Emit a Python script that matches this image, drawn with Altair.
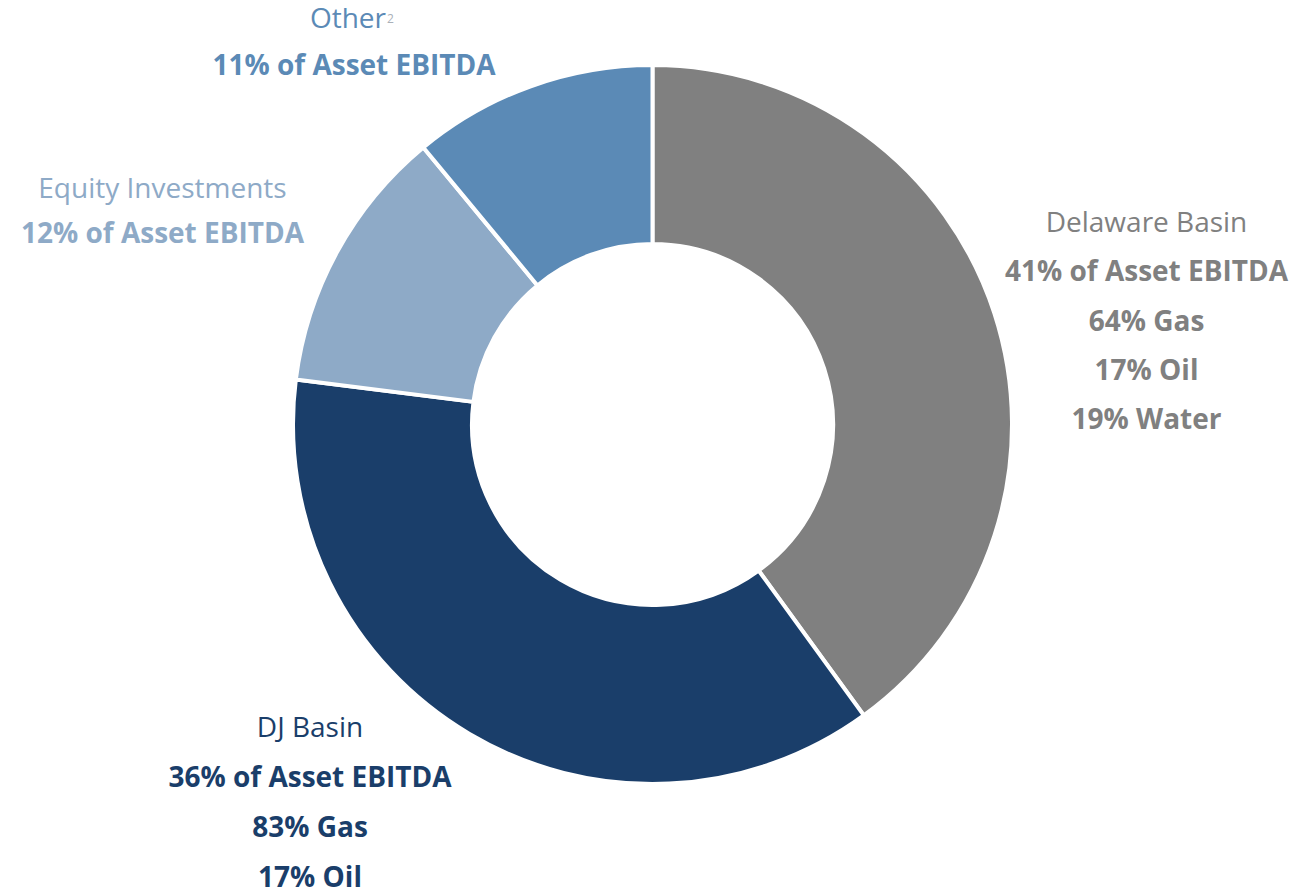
import altair as alt
import pandas as pd

# ---- data ----
segments = ["Delaware Basin", "DJ Basin", "Equity Investments", "Other"]
# slice shares as drawn (angles measured on the picture)
shares = [40, 37, 12, 11]
colors = ["#808080", "#1a3e6a", "#8eaac7", "#5b8ab6"]

label_titles = ["Delaware Basin", "DJ Basin", "Equity Investments", "Other"]
label_lines = [
    ["41% of Asset EBITDA", "64% Gas", "17% Oil", "19% Water"],
    ["36% of Asset EBITDA", "83% Gas", "17% Oil"],
    ["12% of Asset EBITDA"],
    ["11% of Asset EBITDA"],
]
footnote_mark = "2"

# ---- layout (pixels within the view) ----
W, H = 1299, 881
CX, CY = 644.5, 416.5
R_OUT, R_IN = 359.5, 180.5
FONT = "Open Sans"
FS = 28
# anchor (center x, first baseline y, line spacing) for each label block
anchors = [(1138.5, 224, 49.3), (302, 729, 50), (154.5, 190, 44.5), (346, 20, 47)]

df = pd.DataFrame({"segment": segments, "share": shares, "order": list(range(len(segments)))})
color_scale = alt.Scale(domain=segments, range=colors)
xs = alt.Scale(domain=[0, W], range=[0, W])
ys = alt.Scale(domain=[0, H], range=[0, H])

donut = alt.Chart(df).mark_arc(stroke="white", strokeWidth=4).encode(
    theta=alt.Theta("share:Q", stack=True),
    order=alt.Order("order:Q"),
    color=alt.Color("segment:N", scale=color_scale, legend=None),
    x=alt.value(CX),
    y=alt.value(CY),
    radius=alt.value(R_OUT),
    radius2=alt.value(R_IN),
)

rows = []
for seg, title, lines, (ax, ay, sp) in zip(segments, label_titles, label_lines, anchors):
    if seg != "Other":
        rows.append({"segment": seg, "text": title, "px": ax, "py": ay, "w": "normal"})
    for i, ln in enumerate(lines):
        rows.append({"segment": seg, "text": ln, "px": ax, "py": ay + (i + 1) * sp, "w": "bold"})
ldf = pd.DataFrame(rows)

def text_layer(data, weight, align="center"):
    return alt.Chart(data).mark_text(
        font=FONT, fontSize=FS, fontWeight=weight, align=align, baseline="alphabetic"
    ).encode(
        x=alt.X("px:Q", scale=xs, axis=None),
        y=alt.Y("py:Q", scale=ys, axis=None),
        text="text:N",
        color=alt.Color("segment:N", scale=color_scale, legend=None),
    )

normal_txt = text_layer(ldf[ldf.w == "normal"], "normal")
bold_txt = text_layer(ldf[ldf.w == "bold"], "bold")

# "Other" title, right-aligned so the footnote mark can follow it
other_df = pd.DataFrame({"segment": ["Other"], "text": [label_titles[3]], "px": [378], "py": [20]})
other_txt = text_layer(other_df, "normal", align="right")

sup_df = pd.DataFrame({"text": [footnote_mark], "px": [379], "py": [15]})
sup = alt.Chart(sup_df).mark_text(
    font=FONT, fontSize=12, align="left", baseline="alphabetic", color="#aab0b8"
).encode(
    x=alt.X("px:Q", scale=xs, axis=None),
    y=alt.Y("py:Q", scale=ys, axis=None),
    text="text:N",
)

chart = alt.layer(donut, normal_txt, bold_txt, other_txt, sup).properties(
    width=W, height=H, padding=0, autosize=alt.AutoSizeParams(type="none")
).configure_view(strokeWidth=0)

chart.save("out.html", embed_options={"renderer": "svg", "actions": False})
